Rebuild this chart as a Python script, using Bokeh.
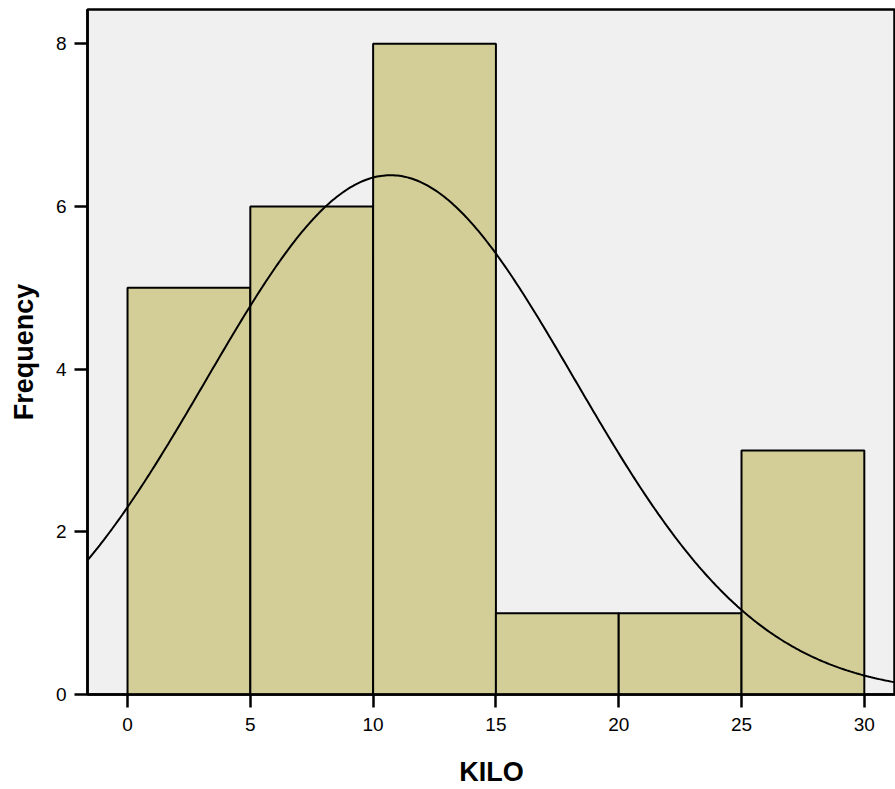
import numpy as np
from bokeh.plotting import figure
from bokeh.models import FixedTicker, Range1d
from bokeh.embed import file_html
from bokeh.resources import INLINE

# Data
bin_left = [0, 5, 10, 15, 20, 25]
bin_right = [5, 10, 15, 20, 25, 30]
counts = [5, 6, 8, 1, 1, 3]
x_ticks = [0, 5, 10, 15, 20, 25, 30]
y_ticks = [0, 2, 4, 6, 8]
fit_mean = 10.71
fit_std = 7.5
fit_n = 24
bin_width = 5

x_lo, x_hi = -1.63, 31.27
y_lo, y_hi = 0, 8.42

p = figure(width=895, height=789, output_backend="svg", toolbar_location=None,
           x_range=Range1d(x_lo, x_hi), y_range=Range1d(y_lo, y_hi),
           min_border_left=87, min_border_bottom=95, min_border_top=9, min_border_right=0)

p.background_fill_color = "#F0F0F0"
p.border_fill_color = "white"
p.outline_line_color = "black"
p.outline_line_width = 2.5
p.xgrid.visible = False
p.ygrid.visible = False

p.quad(left=bin_left, right=bin_right, bottom=0, top=counts,
       fill_color="#D3CE97", line_color="black", line_width=2)

xs = np.linspace(x_lo, x_hi, 400)
ys = fit_n * bin_width / (fit_std * np.sqrt(2 * np.pi)) * np.exp(-0.5 * ((xs - fit_mean) / fit_std) ** 2)
p.line(xs, ys, line_color="black", line_width=2)

for ax in (p.xaxis[0], p.yaxis[0]):
    ax.axis_line_color = "black"
    ax.axis_line_width = 2.5
    ax.major_tick_line_color = "black"
    ax.major_tick_line_width = 2.5
    ax.major_tick_out = 13
    ax.major_tick_in = 0
    ax.minor_tick_line_color = None
    ax.major_label_text_font = "Liberation Sans"
    ax.major_label_text_font_size = "19px"
    ax.major_label_text_color = "black"
    ax.axis_label_text_font = "Liberation Sans"
    ax.axis_label_text_font_size = "27px"
    ax.axis_label_text_font_style = "bold"
    ax.axis_label_text_color = "black"

p.xaxis.ticker = FixedTicker(ticks=x_ticks)
p.yaxis.ticker = FixedTicker(ticks=y_ticks)
p.xaxis.axis_label = "KILO"
p.yaxis.axis_label = "Frequency"
p.xaxis.major_label_standoff = 10
p.yaxis.major_label_standoff = 8
p.xaxis.axis_label_standoff = 23
p.yaxis.axis_label_standoff = 14

open("out.html", "w").write(file_html(p, INLINE))
